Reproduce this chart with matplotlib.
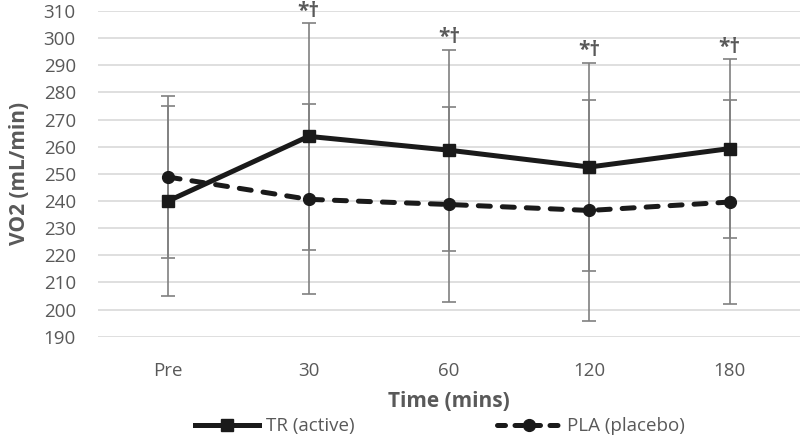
import matplotlib
matplotlib.use("Agg")
import matplotlib.pyplot as plt
from matplotlib.lines import Line2D

plt.rcParams['font.family'] = ['Open Sans', 'DejaVu Sans']

# Data
tider = ['Pre', '30', '60', '120', '180']
tr_mean = [240.0, 263.8, 258.7, 252.5, 259.3]
tr_sd = [35.0, 41.7, 37.0, 38.4, 33.0]
pla_mean = [248.8, 240.6, 238.7, 236.5, 239.6]
pla_sd = [29.7, 35.0, 36.0, 40.6, 37.5]
signif = ['', '*†', '*†', '*†', '*†']

GRAA = '#595959'
SORT = '#1a1a1a'
STREG = (0, (2.4, 2.4))

fig = plt.figure(figsize=(8, 4.37), dpi=100)
ax = fig.add_axes([0.1225, 0.2295, 0.8775, 0.7455])

x = list(range(len(tider)))

# error bars first so the lines sit on top
ax.errorbar(x, tr_mean, yerr=tr_sd, fmt='none', ecolor='#808080',
            elinewidth=1.2, capsize=5, capthick=1.2, zorder=2)
ax.errorbar(x, pla_mean, yerr=pla_sd, fmt='none', ecolor='#808080',
            elinewidth=1.2, capsize=5, capthick=1.2, zorder=2)

ax.plot(x, tr_mean, color=SORT, linewidth=3.6, marker='s', markersize=8,
        zorder=4, solid_capstyle='round')
ax.plot(x, pla_mean, color=SORT, linewidth=3.6, linestyle=STREG,
        marker='o', markersize=8.5, zorder=3, dash_capstyle='round')

for i, s in enumerate(signif):
    if s:
        ax.annotate(s, (x[i], tr_mean[i] + tr_sd[i]), xytext=(0, 1),
                    textcoords='offset points', ha='center', va='bottom',
                    fontsize=15, fontweight='bold', color=GRAA)

ax.set_xlim(-0.5, len(tider) - 0.5)
ax.set_ylim(190, 310)
ax.set_yticks(range(190, 311, 10))
ax.set_xticks(x)
ax.set_xticklabels(tider)
ax.grid(axis='y', color='#d9d9d9', linewidth=1.2)
ax.set_axisbelow(True)
for sp in ax.spines.values():
    sp.set_visible(False)
ax.tick_params(axis='both', length=0, labelsize=13.5, labelcolor=GRAA)
ax.tick_params(axis='x', pad=18)
ax.tick_params(axis='y', pad=16)

ax.set_ylabel('VO2 (mL/min)', fontsize=15, fontweight='bold', color=GRAA, labelpad=10)
ax.set_xlabel('Time (mins)', fontsize=15, fontweight='bold', color=GRAA, labelpad=8)

handles = [
    Line2D([], [], color=SORT, linewidth=3.6, marker='s', markersize=8),
    Line2D([], [], color=SORT, linewidth=3.6, linestyle=(0, (1.6, 1.9)),
           marker='o', markersize=8.5, dash_capstyle='round'),
]
fig.legend(handles, ['TR (active)', 'PLA (placebo)'], loc='lower center',
           bbox_to_anchor=(0.55, -0.035), ncol=2, frameon=False, fontsize=13.5,
           handlelength=3.4, columnspacing=7.6, handletextpad=0.35,
           labelcolor=GRAA)

fig.savefig('out.png', dpi=100)
